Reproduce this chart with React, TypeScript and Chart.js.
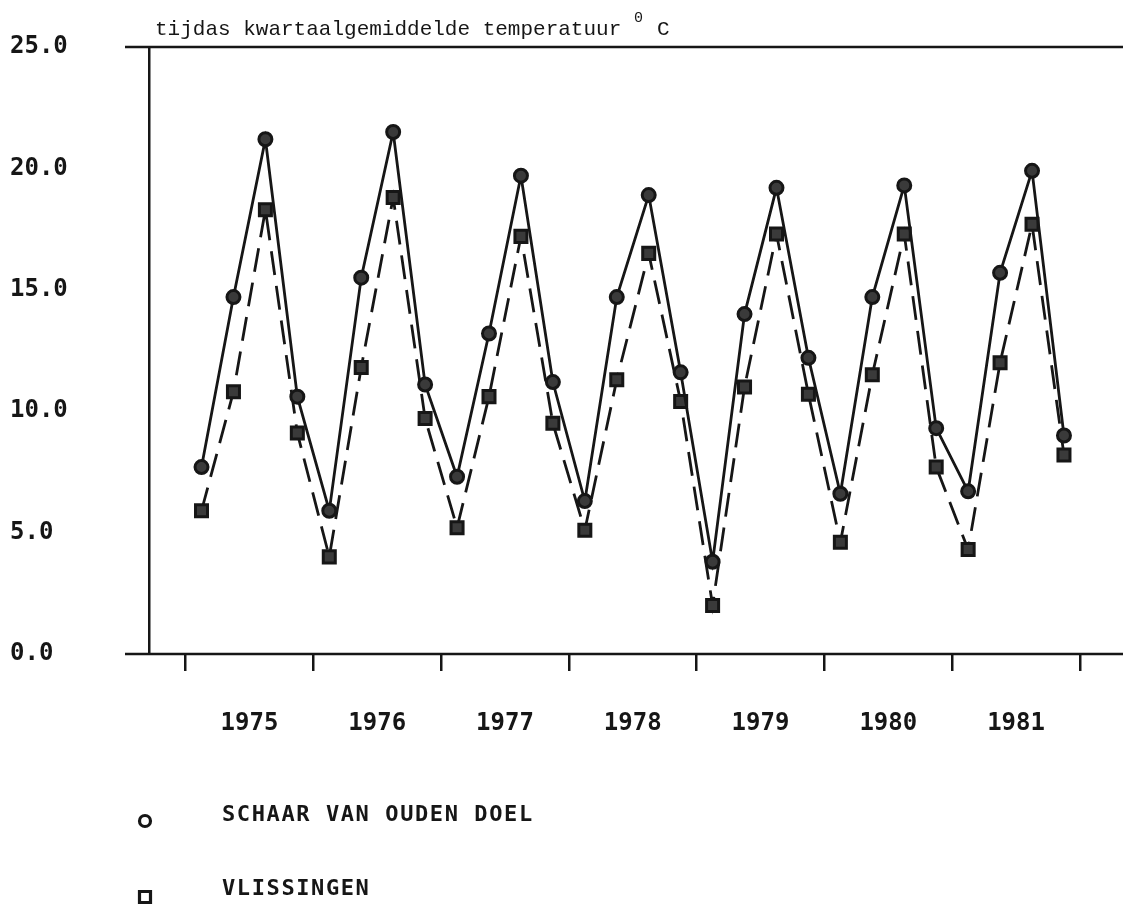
import React, { useEffect, useRef } from 'react';
import { Chart, registerables } from 'chart.js';

Chart.register(...registerables);

// ---- data ----
const years = [1975, 1976, 1977, 1978, 1979, 1980, 1981];
const quartersPerYear = 4;
const schaarVanOudenDoel = [
  7.7, 14.7, 21.2, 10.6,
  5.9, 15.5, 21.5, 11.1,
  7.3, 13.2, 19.7, 11.2,
  6.3, 14.7, 18.9, 11.6,
  3.8, 14.0, 19.2, 12.2,
  6.6, 14.7, 19.3, 9.3,
  6.7, 15.7, 19.9, 9.0,
];
const vlissingen = [
  5.9, 10.8, 18.3, 9.1,
  4.0, 11.8, 18.8, 9.7,
  5.2, 10.6, 17.2, 9.5,
  5.1, 11.3, 16.5, 10.4,
  2.0, 11.0, 17.3, 10.7,
  4.6, 11.5, 17.3, 7.7,
  4.3, 12.0, 17.7, 8.2,
];
const yTicks = [0, 5, 10, 15, 20, 25];
const seriesLabels = ['SCHAAR VAN OUDEN DOEL', 'VLISSINGEN'];
const titleText = 'tijdas kwartaalgemiddelde temperatuur';
const unitSup = '0';
const unitText = 'C';

const INK = '#161616';
const MARK_FILL = '#3a3a3a';
const AXIS_FONT = { family: '"DejaVu Sans Mono", monospace', size: 24, weight: 'bold' as const };

function toPoints(values: number[]) {
  return values.map((v, i) => {
    const yr = years[Math.floor(i / quartersPerYear)];
    const q = i % quartersPerYear;
    return { x: yr + (q + 0.5) / quartersPerYear, y: v };
  });
}

const decorPlugin = {
  id: 'decor',
  afterDraw(chart: any) {
    const { ctx, chartArea } = chart;
    ctx.save();
    // top and bottom frame lines extending left of the y axis
    ctx.strokeStyle = INK;
    ctx.lineWidth = 2.5;
    ctx.setLineDash([]);
    ctx.beginPath();
    ctx.moveTo(125, chartArea.top);
    ctx.lineTo(chart.width, chartArea.top);
    ctx.moveTo(125, chartArea.bottom);
    ctx.lineTo(chart.width, chartArea.bottom);
    ctx.stroke();

    // title
    ctx.fillStyle = INK;
    ctx.textBaseline = 'alphabetic';
    ctx.textAlign = 'left';
    ctx.font = '21px "Liberation Mono", monospace';
    ctx.fillText(titleText, 155, 35);
    ctx.font = '15px "Liberation Mono", monospace';
    ctx.fillText(unitSup, 634, 22);
    ctx.font = '21px "Liberation Mono", monospace';
    ctx.fillText(unitText, 657, 35);

    // legend
    const ds = chart.data.datasets;
    const rows = [
      { y: 821, ty: 815 },
      { y: 897, ty: 889 },
    ];
    ds.forEach((d: any, i: number) => {
      const r = rows[i];
      ctx.lineWidth = 3.2;
      ctx.strokeStyle = INK;
      ctx.setLineDash([]);
      ctx.beginPath();
      if (d.pointStyle === 'rect') {
        ctx.rect(145 - 5.5, r.y - 5.5, 11, 11);
      } else {
        ctx.arc(145, r.y, 5.5, 0, Math.PI * 2);
      }
      ctx.stroke();
      ctx.font = 'bold 22px "DejaVu Sans Mono", monospace';
      (ctx as any).letterSpacing = '1.6px';
      ctx.textBaseline = 'middle';
      ctx.fillText(d.label, 222, r.ty);
      (ctx as any).letterSpacing = '0px';
    });
    ctx.restore();
  },
};

export default function App() {
  const canvasRef = useRef<HTMLCanvasElement | null>(null);

  useEffect(() => {
    const canvas = canvasRef.current;
    if (!canvas) return;
    const xMin = 1974.714;
    const xMax = 1982.247;
    const chart = new Chart(canvas, {
      type: 'line',
      data: {
        datasets: [
          {
            label: seriesLabels[0],
            data: toPoints(schaarVanOudenDoel),
            borderColor: INK,
            borderWidth: 2.8,
            pointStyle: 'circle',
            pointRadius: 6.5,
            pointBorderWidth: 3,
            pointBackgroundColor: MARK_FILL,
            pointBorderColor: INK,
            tension: 0,
            fill: false,
          },
          {
            label: seriesLabels[1],
            data: toPoints(vlissingen),
            borderColor: INK,
            borderWidth: 2.8,
            borderDash: [24, 11],
            pointStyle: 'rect',
            pointRadius: 8.5,
            pointBorderWidth: 3,
            pointBackgroundColor: MARK_FILL,
            pointBorderColor: INK,
            tension: 0,
            fill: false,
          },
        ] as any,
      },
      options: {
        animation: false,
        responsive: true,
        maintainAspectRatio: false,
        layout: { padding: { top: 47, left: 10, right: 0, bottom: 0 } },
        plugins: {
          legend: { display: false },
          tooltip: { enabled: false },
          title: { display: false },
        },
        scales: {
          x: {
            type: 'linear',
            min: xMin,
            max: xMax,
            afterBuildTicks: (scale: any) => {
              const t: number[] = [];
              years.forEach((y) => {
                t.push(y);
                t.push(y + 0.5);
              });
              t.push(years[years.length - 1] + 1);
              scale.ticks = t.map((v) => ({ value: v }));
            },
            afterFit: (scale: any) => {
              scale.height = 255;
            },
            ticks: {
              autoSkip: false,
              maxRotation: 0,
              minRotation: 0,
              padding: 38,
              color: INK,
              font: AXIS_FONT,
              callback: (v: any) => {
                const n = Number(v);
                return Number.isInteger(n) ? '' : String(Math.floor(n));
              },
            },
            grid: {
              display: true,
              drawOnChartArea: false,
              drawTicks: true,
              tickLength: 17,
              lineWidth: 2.5,
              color: (c: any) => (c.tick && Number.isInteger(c.tick.value) ? INK : 'rgba(0,0,0,0)'),
              tickColor: (c: any) => (c.tick && Number.isInteger(c.tick.value) ? INK : 'rgba(0,0,0,0)'),
            },
            border: { display: false },
          },
          y: {
            type: 'linear',
            min: 0,
            max: 25,
            afterBuildTicks: (scale: any) => {
              scale.ticks = yTicks.map((v) => ({ value: v }));
            },
            afterFit: (scale: any) => {
              scale.width = 139;
            },
            ticks: {
              padding: 4,
              crossAlign: 'far',
              color: INK,
              font: AXIS_FONT,
              callback: (v: any) => Number(v).toFixed(1),
            },
            grid: { display: false, drawOnChartArea: false, drawTicks: false },
            border: { display: true, color: INK, width: 2.5 },
          },
        },
      } as any,
      plugins: [decorPlugin],
    });
    return () => chart.destroy();
  }, []);

  return (
    <div style={{ position: 'absolute', left: 0, top: 0, width: 1123, height: 909, background: '#fff' }}>
      <canvas ref={canvasRef} />
    </div>
  );
}
